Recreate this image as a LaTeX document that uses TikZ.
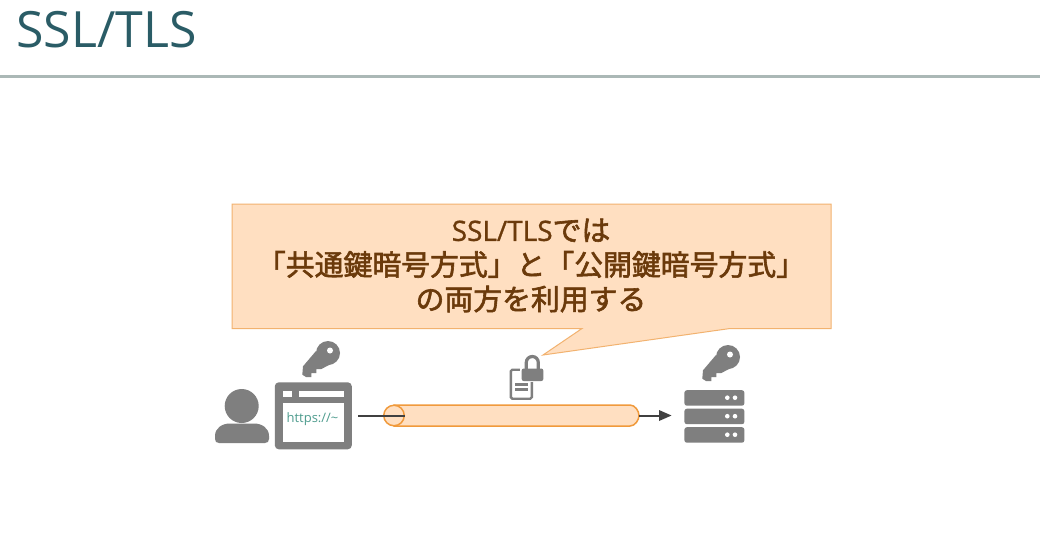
\documentclass[tikz,border=0pt]{standalone}
\usepackage{fontspec}
\setmainfont{Open Sans}
\newfontfamily\cjk[FakeBold=2,Scale=1.03]{Noto Sans CJK JP}
\newfontfamily\latinsemi[FakeBold=1]{Open Sans}
\definecolor{iconGray}{HTML}{7F7F7F}
\definecolor{calloutFill}{HTML}{FFDFC1}
\definecolor{calloutEdge}{HTML}{F2B26F}
\definecolor{tubeEdge}{HTML}{F09A3C}
\definecolor{titleTeal}{HTML}{2A5C66}
\definecolor{ruleGray}{HTML}{ABB8B6}
\definecolor{calloutText}{HTML}{6B3A0B}
\definecolor{urlTeal}{HTML}{4E9C8E}
\definecolor{lineDark}{HTML}{404040}
\tikzset{
  iconshape/.style={fill=iconGray,draw=none},
  connector/.style={draw=lineDark,line width=2pt},
  tube/.style={fill=calloutFill,draw=tubeEdge,line width=1.5pt},
  pin/.pic={
    \fill[iconGray] (0,0) circle (12);
    \fill[iconGray] (-12,-2) -- (-25,13.3) -- (-25.7,21.7) -- (-22,24) -- (-16.7,24) -- (-16.7,20) -- (-11.7,20) -- (-11.7,16) -- (-6.7,16) -- (5,10) -- cycle;
    \fill[white] (2,-2.5) circle (3);
  }
}
\begin{document}
\begin{tikzpicture}[x=1pt,y=-1pt]
\useasboundingbox (0,0) rectangle (1040,550);
\fill[white] (0,0) rectangle (1040,550);
% title
\node[anchor=base west,inner sep=0pt,text=titleTeal,font=\fontsize{50}{52}\selectfont] (title) at (16,47.5) {SSL/TLS};
\coordinate (ruleL) at (0,76);
\coordinate (ruleR) at (1040,76);
\draw[ruleGray,line width=3pt] (ruleL) -- (ruleR);
% callout
\draw[fill=calloutFill,draw=calloutEdge,line width=1pt]
  (232,204) -- (831,204) -- (831,328.5) -- (730,328.5) -- (543,355) -- (582,328.5) -- (232,328.5) -- cycle;
\node[align=center,text=calloutText,inner sep=0pt,font=\fontsize{28}{34.5}\selectfont] (callout) at (531,265.5)
 {{\latinsemi SSL/TLS}{\cjk では}\\{\cjk 「共通鍵暗号方式」と「公開鍵暗号方式」}\\{\cjk の両方を利用する}};
% keys
\pic at (328,353) {pin};
\pic at (728,357) {pin};
% person
\fill[iconGray] (241.7,406) circle (17);
\fill[iconGray] (215,436) .. controls (215,428) and (222,423.5) .. (230,423.5) -- (254,423.5) .. controls (262,423.5) and (269,428) .. (269,436) -- (269,439) .. controls (269,441.5) and (267.5,443) .. (265,443) -- (219,443) .. controls (216.5,443) and (215,441.5) .. (215,439) -- cycle;
% browser
\node[iconshape,rounded corners=4pt,minimum width=77pt,minimum height=67pt,inner sep=0pt] (browser) at (313.3,415.8) {};
\fill[white] (282.7,390.7) rectangle (291.7,396.7);
\fill[white] (299,390.7) rectangle (344,396.7);
\fill[white] (282.7,403.3) rectangle (344,442.3);
\node[text=urlTeal,inner sep=0pt,font=\fontsize{13}{14}\selectfont] (url) at (312.5,419.5) {https://\textasciitilde};
% tube
\draw[tube] (394,405) -- (630,405) .. controls (635,405) and (639,411) .. (639,415.5) .. controls (639,420) and (635,426) .. (630,426) -- (394,426) -- cycle;
\node[circle,draw=tubeEdge,line width=1.5pt,fill=calloutFill,minimum size=20.5pt,inner sep=0pt] (tubeEnd) at (394,415.5) {};
\coordinate (tubeRight) at (639,415.5);
\node[inner sep=0pt,minimum width=60pt,minimum height=52.5pt] (server) at (714,416.2) {};
\coordinate (lineStart) at (358,415.5);
\draw[connector] (lineStart) -- (tubeEnd.east);
\draw[connector] (tubeRight) -- (660,415.5);
\fill[lineDark] (671.5,415.5) -- (659,410) -- (659,421) -- cycle;
% document + lock
\node[draw=iconGray,fill=white,line width=2.4pt,rounded corners=1.5pt,minimum width=21pt,minimum height=29pt,inner sep=0pt] (doc) at (521.3,384.2) {};
\fill[iconGray] (515,383) rectangle (528,386);
\fill[iconGray] (515,387.5) rectangle (528,391);
\fill[white] (520,366) rectangle (545,382);
\fill[iconGray,rounded corners=2pt] (521.7,368.5) rectangle (543.3,381);
\draw[iconGray,line width=3.2pt] (526.3,369) -- (526.3,362.5) arc[start angle=180,end angle=360,radius=6] -- (538.3,369);
% server
\foreach \n/\y in {a/390,b/408.5,c/427}{
  \node[iconshape,rounded corners=2.5pt,minimum width=60pt,minimum height=15.5pt,inner sep=0pt,anchor=north west] (rack\n) at (684.2,\y) {};
  \fill[white] (727.3,\y+7.7) circle (2.3);
  \fill[white] (735,\y+7.7) circle (2.3);
}
\end{tikzpicture}
\end{document}
